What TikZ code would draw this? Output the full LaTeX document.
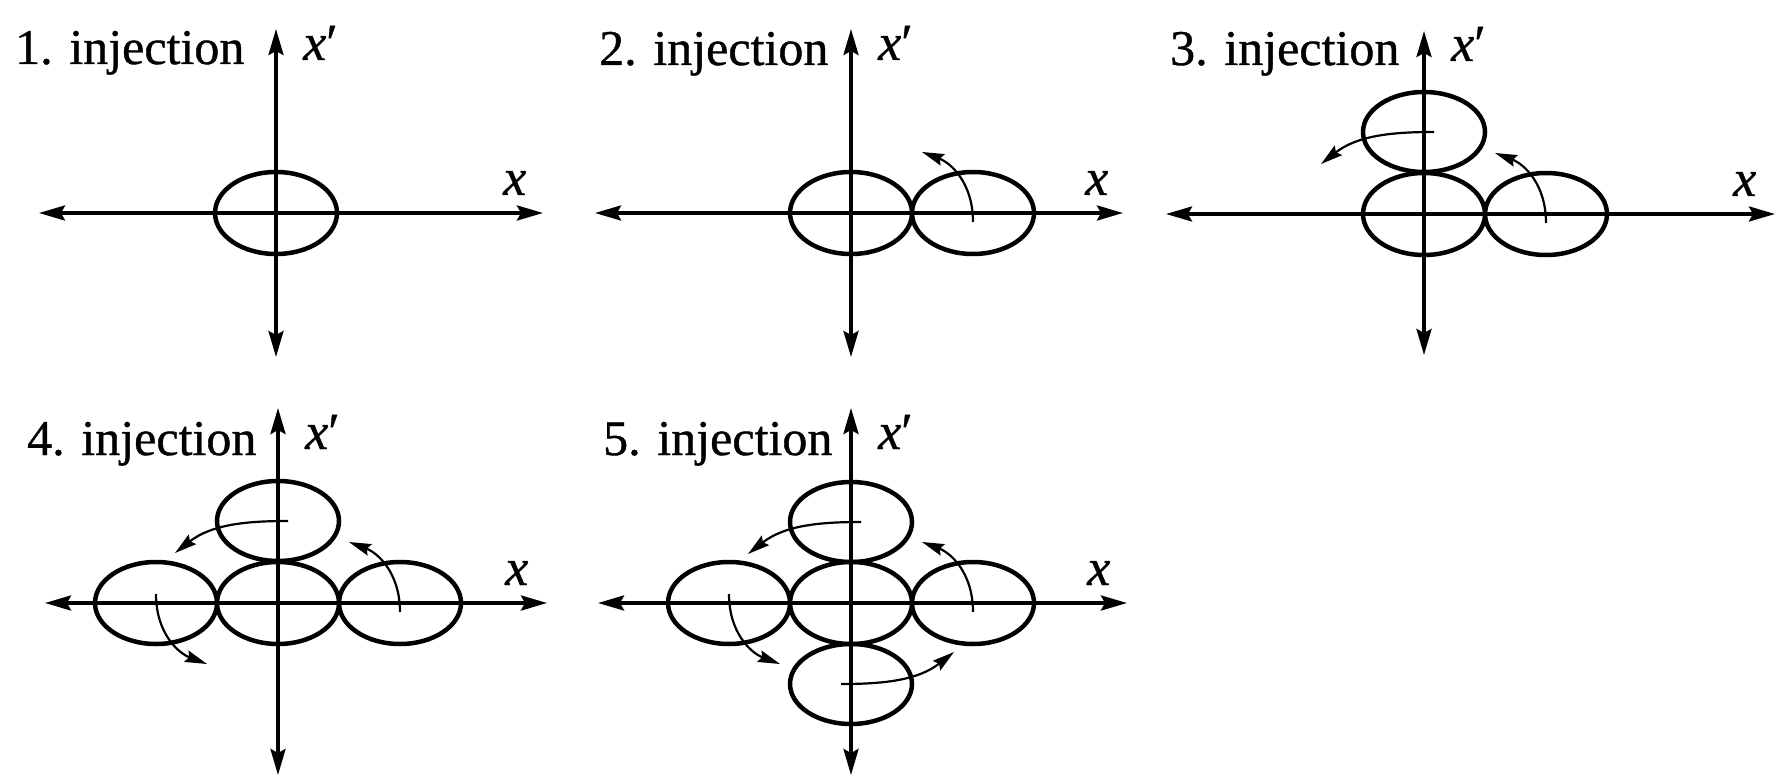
\documentclass[tikz,border=0pt]{standalone}
\usepackage{fontspec}
\setmainfont{Liberation Serif}[FakeBold=0.8]
\usetikzlibrary{arrows.meta}
\tikzset{
  x=1pt, y=-1pt,
  axisline/.style={line width=3.5pt, {Stealth[length=26pt,width=15pt,inset=4pt]}-{Stealth[length=26pt,width=15pt,inset=4pt]}},
  beam/.style={line width=4.5pt},
  rotarrow/.style={line width=2.2pt, -{Stealth[length=22pt,width=12pt,inset=3pt]}},
  lbl/.style={anchor=base west, inner sep=0pt, font=\fontsize{50}{60}\selectfont},
  axlbl/.style={anchor=base west, inner sep=0pt, font=\fontsize{52}{60}\selectfont\itshape},
  arrR/.pic={\draw[rotarrow] (0,9) .. controls (0,-30) and (-22,-50) .. (-51,-61);},
  arrT/.pic={\draw[rotarrow] (10,0) .. controls (-30,0) and (-66,3) .. (-103,32);},
  arrL/.pic={\draw[rotarrow] (0,-9) .. controls (0,30) and (22,50) .. (51,61);},
  arrB/.pic={\draw[rotarrow] (-10,0) .. controls (30,0) and (66,-3) .. (103,-32);},
}
\begin{document}
\begin{tikzpicture}
\useasboundingbox (0,0) rectangle (1778,778);
% origins
\coordinate (O1) at (276,213);
\coordinate (O2) at (851,213);
\coordinate (O3) at (1424,214);
\coordinate (O4) at (278,603);
\coordinate (O5) at (851,603);
% axis end points
\coordinate (h1l) at (39,213);  \coordinate (h1r) at (543,213);
\coordinate (v1t) at (276,29);  \coordinate (v1b) at (276,357);
\coordinate (h2l) at (595,213); \coordinate (h2r) at (1123,213);
\coordinate (v2t) at (851,29);  \coordinate (v2b) at (851,357);
\coordinate (h3l) at (1166,214); \coordinate (h3r) at (1775,214);
\coordinate (v3t) at (1424,31);  \coordinate (v3b) at (1424,355);
\coordinate (h4l) at (45,603);  \coordinate (h4r) at (547,603);
\coordinate (v4t) at (278,408); \coordinate (v4b) at (278,775);
\coordinate (h5l) at (598,603); \coordinate (h5r) at (1127,603);
\coordinate (v5t) at (851,408); \coordinate (v5b) at (851,775);

% panel 1
\draw[axisline] (h1l) -- (h1r);
\draw[axisline] (v1b) -- (v1t);
\draw[beam] (O1) ellipse [x radius=61, y radius=41];
\node[lbl] (t1) at (15,64) {1. injection};
\node[axlbl] (xp1) at (303,60) {x\/\upshape′};
\node[axlbl] (x1) at (503,195) {x};

% panel 2
\draw[axisline] (h2l) -- (h2r);
\draw[axisline] (v2b) -- (v2t);
\draw[beam] (O2) ellipse [x radius=61, y radius=41];
\draw[beam] (973,213) ellipse [x radius=61, y radius=41];
\pic at (973,213) {arrR};
\node[lbl] (t2) at (599,65) {2. injection};
\node[axlbl] (xp2) at (878,60) {x\/\upshape′};
\node[axlbl] (x2) at (1085,195) {x};

% panel 3
\draw[axisline] (h3l) -- (h3r);
\draw[axisline] (v3b) -- (v3t);
\draw[beam] (O3) ellipse [x radius=61, y radius=41];
\draw[beam] (1546,214) ellipse [x radius=61, y radius=41];
\draw[beam] (1424,132) ellipse [x radius=61, y radius=40];
\pic at (1546,214) {arrR};
\pic at (1424,132) {arrT};
\node[lbl] (t3) at (1170,65) {3. injection};
\node[axlbl] (xp3) at (1451,61) {x\/\upshape′};
\node[axlbl] (x3) at (1733,196) {x};

% panel 4
\draw[axisline] (h4l) -- (h4r);
\draw[axisline] (v4b) -- (v4t);
\draw[beam] (O4) ellipse [x radius=61, y radius=41];
\draw[beam] (400,603) ellipse [x radius=61, y radius=41];
\draw[beam] (156,603) ellipse [x radius=61, y radius=41];
\draw[beam] (278,521) ellipse [x radius=61, y radius=40];
\pic at (400,603) {arrR};
\pic at (278,521) {arrT};
\pic at (156,603) {arrL};
\node[lbl] (t4) at (27,455) {4. injection};
\node[axlbl] (xp4) at (305,449) {x\/\upshape′};
\node[axlbl] (x4) at (505,585) {x};

% panel 5
\draw[axisline] (h5l) -- (h5r);
\draw[axisline] (v5b) -- (v5t);
\draw[beam] (O5) ellipse [x radius=61, y radius=41];
\draw[beam] (973,603) ellipse [x radius=61, y radius=41];
\draw[beam] (729,603) ellipse [x radius=61, y radius=41];
\draw[beam] (851,522) ellipse [x radius=61, y radius=40];
\draw[beam] (851,684) ellipse [x radius=61, y radius=40];
\pic at (973,603) {arrR};
\pic at (851,522) {arrT};
\pic at (729,603) {arrL};
\pic at (851,684) {arrB};
\node[lbl] (t5) at (603,455) {5. injection};
\node[axlbl] (xp5) at (878,449) {x\/\upshape′};
\node[axlbl] (x5) at (1087,585) {x};
\end{tikzpicture}
\end{document}
